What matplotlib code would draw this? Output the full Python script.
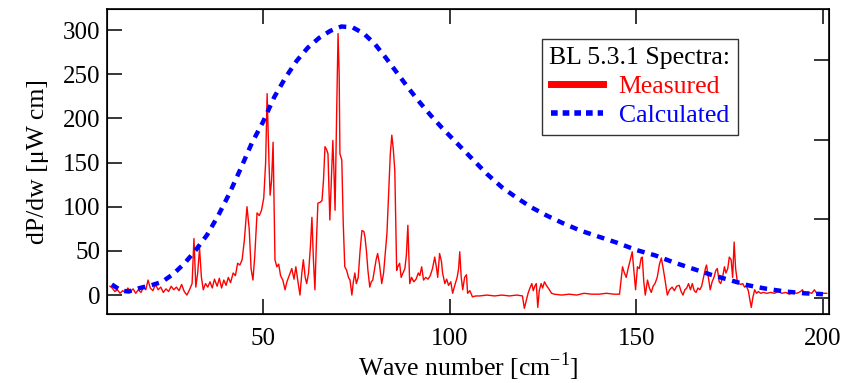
import matplotlib
matplotlib.use("Agg")
import matplotlib.pyplot as plt
from matplotlib.lines import Line2D

plt.rcParams["font.family"] = ["Liberation Serif", "DejaVu Serif"]
plt.rcParams["mathtext.fontset"] = "custom"
plt.rcParams["mathtext.rm"] = "Liberation Serif"

# calculated spectrum
calc_x = [9.5, 12, 14, 17, 20, 23, 26, 29, 32, 35, 38, 41, 44, 47, 50, 53, 56, 59,
          62, 65, 68, 71, 74, 77, 80, 83, 86, 89, 92, 95, 98, 101, 104, 107, 110,
          114, 118, 122, 126, 130, 135, 140, 145, 150, 155, 160, 165, 170, 175,
          180, 185, 190, 195, 200]
calc_y = [12, 5, 4, 8, 11, 15, 24, 36, 51, 68, 90, 115, 143, 172, 196, 224, 246, 265,
          280, 291, 299, 304, 303, 296, 284, 268, 251, 234, 218, 203, 189, 176, 163,
          150, 137, 122, 110, 99, 90, 82, 73, 66, 59, 51, 45, 37, 30, 23, 17,
          11, 7, 4, 2, 1]

# measured spectrum
meas_x = [9.0, 9.6, 10.3, 11.0, 11.7, 12.4, 13.1, 13.8, 14.5, 15.2, 15.9, 16.6, 17.3,
          18.0, 18.6, 19.2, 19.8, 20.5, 21.2, 21.9, 22.6, 23.3, 24.0, 24.7, 25.4,
          26.1, 26.8, 27.5, 28.2, 28.9, 29.6, 30.3, 31.0, 31.5, 32.0, 32.5, 33.0,
          33.5, 34.0, 34.6, 35.2, 35.8, 36.4, 37.0, 37.7, 38.3, 38.9, 39.5, 40.1,
          40.7, 41.3, 42.0, 42.6, 43.2, 43.8, 44.4, 45.0, 45.7, 46.3, 46.8, 47.3,
          47.8, 48.4, 49.0, 49.6, 50.2, 50.7, 51.1, 51.6, 51.9, 52.3, 52.7, 53.2,
          53.7, 54.2, 54.7, 55.3, 55.9, 56.4, 57.0, 57.7, 58.3, 58.8, 59.4, 59.9,
          60.4, 60.8, 61.3, 61.7, 62.2, 62.7, 63.1, 63.5, 63.9, 64.3, 64.7, 65.3,
          65.8, 66.2, 66.6, 67.0, 67.4, 67.9, 68.3, 68.7, 69.0, 69.3, 69.7, 70.1,
          70.4, 70.6, 71.1, 71.5, 71.9, 72.4, 72.9, 73.3, 73.8, 74.2, 74.6, 75.0,
          75.5, 76.0, 76.5, 77.0, 77.3, 77.7, 78.1, 78.6, 79.0, 79.4, 79.9, 80.3,
          80.7, 81.2, 81.8, 82.3, 82.8, 83.2, 83.7, 84.1, 84.5, 84.9, 85.3, 85.8,
          86.1, 86.6, 87.0, 87.5, 88.0, 88.4, 88.8, 89.3, 89.8, 90.4, 91.0, 91.6,
          92.0, 92.5, 93.0, 93.6, 94.2, 94.8, 95.4, 96.0, 96.5, 96.8, 97.3, 97.8,
          98.1, 98.7, 99.2, 99.7, 100.3, 100.8, 101.3, 102.0, 102.4, 102.7, 103.1,
          103.5, 104.0, 104.5, 104.8, 105.4, 106.1, 107, 108, 110, 112, 114, 116,
          118, 119.5, 120.0, 120.6, 121.0, 121.5, 122.0, 122.4, 122.8, 123.2, 123.6,
          124.0, 124.5, 124.9, 125.4, 125.9, 126.4, 127.3, 128, 130, 132, 134, 136,
          138, 140, 142, 144, 145.5, 146.3, 146.8, 147.3, 147.8, 148.4, 148.9, 149.4,
          149.8, 150.3, 150.8, 151.3, 151.6, 152.0, 152.4, 153.0, 153.5, 154.0,
          154.5, 155.0, 155.6, 156.2, 156.7, 157.2, 157.7, 158.3, 158.9, 159.6,
          160.2, 160.8, 161.5, 162.0, 162.5, 163.0, 163.5, 164.0, 164.5, 165.0,
          165.5, 166.0, 166.5, 167.0, 167.5, 168.0, 168.5, 168.8, 169.3, 169.8,
          170.3, 170.8, 171.3, 171.7, 172.2, 172.6, 173.1, 173.6, 174.0, 174.5,
          174.9, 175.4, 175.8, 176.2, 176.6, 177.0, 177.5, 178.0, 178.5, 179.0,
          179.5, 180.0, 180.4, 180.8, 181.2, 181.7, 182.2, 182.7, 183.3, 184, 185,
          186, 187, 188, 189, 190, 191, 192, 193, 194, 194.5, 195, 196, 197, 197.7,
          198.3, 199, 200, 201]
meas_y = [10, 8, 4, 6, 2, 5, 3, 8, 4, 7, 2, 6, 3,
          9, 6, 17, 8, 5, 12, 6, 9, 3, 7, 4, 10,
          6, 9, 5, 12, 4, 0, 6, 13, 64, 9, 25, 53,
          20, 6, 13, 9, 15, 8, 18, 10, 19, 8, 17, 11,
          20, 14, 25, 22, 36, 34, 40, 62, 100, 75, 30, 17,
          45, 93, 90, 96, 110, 150, 228, 150, 113, 130, 173, 40,
          32, 35, 22, 17, 6, 15, 22, 30, 18, 32, 14, 0,
          25, 40, 20, 13, 25, 55, 88, 40, 6, 60, 104, 105,
          107, 130, 168, 165, 160, 85, 130, 175, 140, 96, 200, 296,
          250, 160, 153, 80, 32, 28, 20, 17, 0, 15, 25, 13,
          20, 50, 73, 72, 66, 50, 28, 9, 15, 17, 30, 40,
          47, 35, 13, 25, 50, 70, 120, 160, 181, 165, 141, 28,
          32, 36, 20, 25, 30, 45, 79, 13, 20, 15, 18, 25,
          22, 32, 17, 20, 18, 22, 30, 43, 30, 20, 47, 38,
          25, 13, 18, 11, 15, 2, 10, 20, 30, 49, 20,
          6, 20, 23, 2, 5, -2, -1, -1, 0, -1, 0, -1,
          0, -1, -15, -5, 2, 8, 13, 5, 10, 13, -14,
          5, 13, 8, 15, 11, 8, 2, 1, 0, 1, 0, 2,
          1, 1, 2, 1, 1, 32, 25, 20, 30, 40, 49, 25,
          6, 32, 30, 42, 43, 15, 0, 17, 8, 3,
          10, 13, 20, 35, 42, 30, 17, 0, 6, 9,
          5, 10, 11, 4, 0, 6, 8, 13, 6, 13,
          5, 3, 8, 6, 10, 20, 30, 34, 20, 6,
          15, 20, 28, 30, 15, 13, 20, 32, 25, 30,
          43, 40, 20, 60, 30, 17, 13, 12, 13, 9,
          10, 5, -5, -14, -3, 6, 2, 4, 2, 3, 2,
          3, 2, 4, 2, 3, 1, 3, 2, 4, 6, 2, 3, 2, 6,
          2, 3, 2, 2]

x_ticks = [50, 100, 150, 200]
y_ticks = [0, 50, 100, 150, 200, 250, 300]

fig = plt.figure(figsize=(8.45, 3.83), dpi=100)
ax = fig.add_axes([0.1266, 0.180, 0.8544, 0.7965])

ax.plot(meas_x, meas_y, color="#ff0000", lw=1.0, zorder=2)
ax.plot(calc_x, calc_y, color="#0000ff", lw=3.2, ls=(0, (1.7, 1.5)),
        dash_capstyle="butt", zorder=3)

ax.set_xlim(8.2, 201.6)
ax.set_ylim(-21.5, 323.8)
ax.set_xticks(x_ticks)
ax.set_yticks(y_ticks)
ax.tick_params(direction="in", length=11, width=1.1, labelsize=18,
               top=True, right=False, color="black")
ax.tick_params(axis="x", pad=10)
ax.tick_params(axis="y", pad=5)
for s in ax.spines.values():
    s.set_linewidth(1.2)

# unlabeled ticks on the right spine with their own spacing
ax2 = ax.twinx()
ax2.set_ylim(-0.2026, 3.647)
ax2.set_yticks([0, 1, 2, 3])
ax2.set_yticklabels([])
ax2.tick_params(direction="in", length=11, width=1.1)

ax.set_xlabel("Wave number [cm$^{-1}$]", fontsize=18.5, labelpad=0)
ax.set_ylabel("dP/dw [\u03bcW cm]", fontsize=18.5, labelpad=10)

handles = [Line2D([], [], color="#ff0000", lw=5),
           Line2D([], [], color="#0000ff", lw=4, ls=(0, (1.2, 0.9)),
                  dash_capstyle="butt")]
leg = ax.legend(handles, ["Measured", "Calculated"], title="BL 5.3.1 Spectra:",
                loc="upper right", bbox_to_anchor=(0.874, 0.902), fontsize=18.5,
                title_fontsize=18.5, frameon=True, fancybox=False,
                handlelength=2.05, handletextpad=0.6, borderpad=0.3,
                labelspacing=0.25, borderaxespad=0)
leg.get_frame().set_edgecolor("black")
leg.get_frame().set_linewidth(1.0)
leg.set_zorder(5)
for txt, c in zip(leg.get_texts(), ["#ff0000", "#0000ff"]):
    txt.set_color(c)

fig.savefig("out.png", dpi=100)
